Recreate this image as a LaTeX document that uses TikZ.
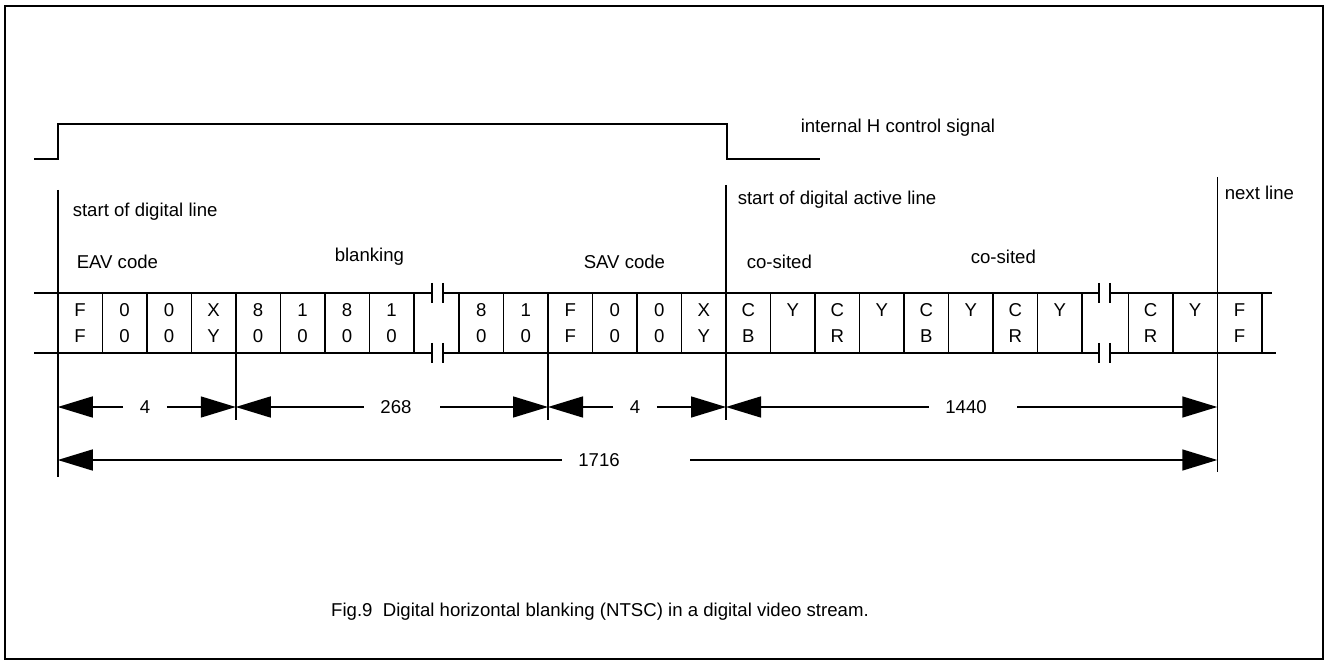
\documentclass[tikz,border=0pt]{standalone}
\usepackage{fontspec}
\setmainfont{Liberation Sans}
\usetikzlibrary{positioning,arrows.meta}

\begin{document}
\begin{tikzpicture}[x=0.5pt, y=-0.5pt, line width=0.75pt,
						cell/.style={rectangle, draw=black!100, minimum width=22.25pt, minimum height=30pt, inner sep=0pt, outer sep=0pt, align=center, font=\fontsize{9.3}{13.3}\selectfont},
						tag/.style={rectangle, anchor=west, inner sep=0pt, font=\fontsize{9.3}{11}\selectfont},
						dimlabel/.style={rectangle, inner xsep=8pt, inner ysep=0pt, font=\fontsize{9.3}{11}\selectfont},
						dim/.style={-{Triangle[length=17.5pt, width=10.5pt]}}
					]
					\useasboundingbox (0,0) rectangle (1326,662);
					\draw[line width=1.2pt] (5,6) rectangle (1323,659);
					% H signal
					\draw (34,159) -- (58,159) -- (58,124) -- (727,124) -- (727,159) -- (820,159);
					\node[tag] (hsignal) at (800,128) {internal H control signal};
					% data words
					\node[cell] (eavff) at (80,323) {F\\F};
					\node[cell] (eavzero) [right=0pt of eavff] {0\\0};
					\node[cell] (eavzerob) [right=0pt of eavzero] {0\\0};
					\node[cell] (eavxy) [right=0pt of eavzerob] {X\\Y};
					\node[cell] (blankeight) [right=0pt of eavxy] {8\\0};
					\node[cell] (blankone) [right=0pt of blankeight] {1\\0};
					\node[cell] (blankeightb) [right=0pt of blankone] {8\\0};
					\node[cell] (blankoneb) [right=0pt of blankeightb] {1\\0};
					\node[cell] (saveight) at (481.25,323) {8\\0};
					\node[cell] (savone) [right=0pt of saveight] {1\\0};
					\node[cell] (savff) [right=0pt of savone] {F\\F};
					\node[cell] (savzero) [right=0pt of savff] {0\\0};
					\node[cell] (savzerob) [right=0pt of savzero] {0\\0};
					\node[cell] (savxy) [right=0pt of savzerob] {X\\Y};
					\node[cell] (actcb) [right=0pt of savxy] {C\\B};
					\node[cell] (acty) [right=0pt of actcb] {Y\\\mbox{}};
					\node[cell] (actcr) [right=0pt of acty] {C\\R};
					\node[cell] (actyb) [right=0pt of actcr] {Y\\\mbox{}};
					\node[cell] (actcbb) [right=0pt of actyb] {C\\B};
					\node[cell] (actyc) [right=0pt of actcbb] {Y\\\mbox{}};
					\node[cell] (actcrb) [right=0pt of actyc] {C\\R};
					\node[cell] (actyd) [right=0pt of actcrb] {Y\\\mbox{}};
					\node[cell] (lastcr) at (1150.5,323) {C\\R};
					\node[cell] (lasty) [right=0pt of lastcr] {Y\\\mbox{}};
					\node[cell] (nextff) [right=0pt of lasty] {F\\F};
					% rails and breaks
					\draw (34,293) -- (432,293) (443,293) -- (1099,293) (1110,293) -- (1272,293);
					\draw (34,353) -- (432,353) (443,353) -- (1099,353) (1110,353) -- (1276,353);
					\foreach \x in {432,443,1099,1110} {
						\draw (\x,283) -- (\x,303) (\x,343) -- (\x,363);
					}
					% markers
					\draw (eavff.north west) ++(0,-103) -- ++(0,287);
					\draw (eavxy.south east) -- ++(0,67);
					\draw (savone.south east) -- ++(0,67);
					\draw (savxy.north east) ++(0,-108) -- ++(0,235);
					\draw (nextff.north west) ++(0,-116) -- ++(0,295);
					\node[tag] (startline) at (72,212) {start of digital line};
					\node[tag] (eavtext) at (76,262) {EAV code};
					\node[tag] (blanktext) at (334,257) {blanking};
					\node[tag] (savtext) at (583,262) {SAV code};
					\node[tag] (activetext) at (737,200) {start of digital active line};
					\node[tag] (cositeda) at (746,262) {co-sited};
					\node[tag] (cositedb) at (970,257) {co-sited};
					\node[tag] (nexttext) at (1224,193) {next line};
					% dimensions
					\node[dimlabel] (deav) at (145,407) {4};
					\node[dimlabel] (dblank) at (396,407) {268};
					\node[dimlabel] (dsav) at (635,407) {4};
					\node[dimlabel] (dactive) at (966,407) {1440};
					\node[dimlabel] (dtotal) at (599,460) {1716};
					\begin{scope}[dim]
					\draw (deav) -- (eavff.west |- deav);
					\draw (deav) -- (eavxy.east |- deav);
					\draw (dblank) -- (eavxy.east |- dblank);
					\draw ([xshift=6pt]dblank.east) -- (savone.east |- dblank);
					\draw (dsav) -- (savone.east |- dsav);
					\draw (dsav) -- (savxy.east |- dsav);
					\draw (dactive) -- (savxy.east |- dactive);
					\draw ([xshift=7pt]dactive.east) -- (nextff.west |- dactive);
					\draw (dtotal) -- (eavff.west |- dtotal);
					\draw ([xshift=27pt]dtotal.east) -- (nextff.west |- dtotal);
					\end{scope}
					\node[font=\fontsize{9.3}{11}\selectfont] (caption) at (600,612) {Fig.9\ \ Digital horizontal blanking (NTSC) in a digital video stream.};
\end{tikzpicture}
\end{document}
